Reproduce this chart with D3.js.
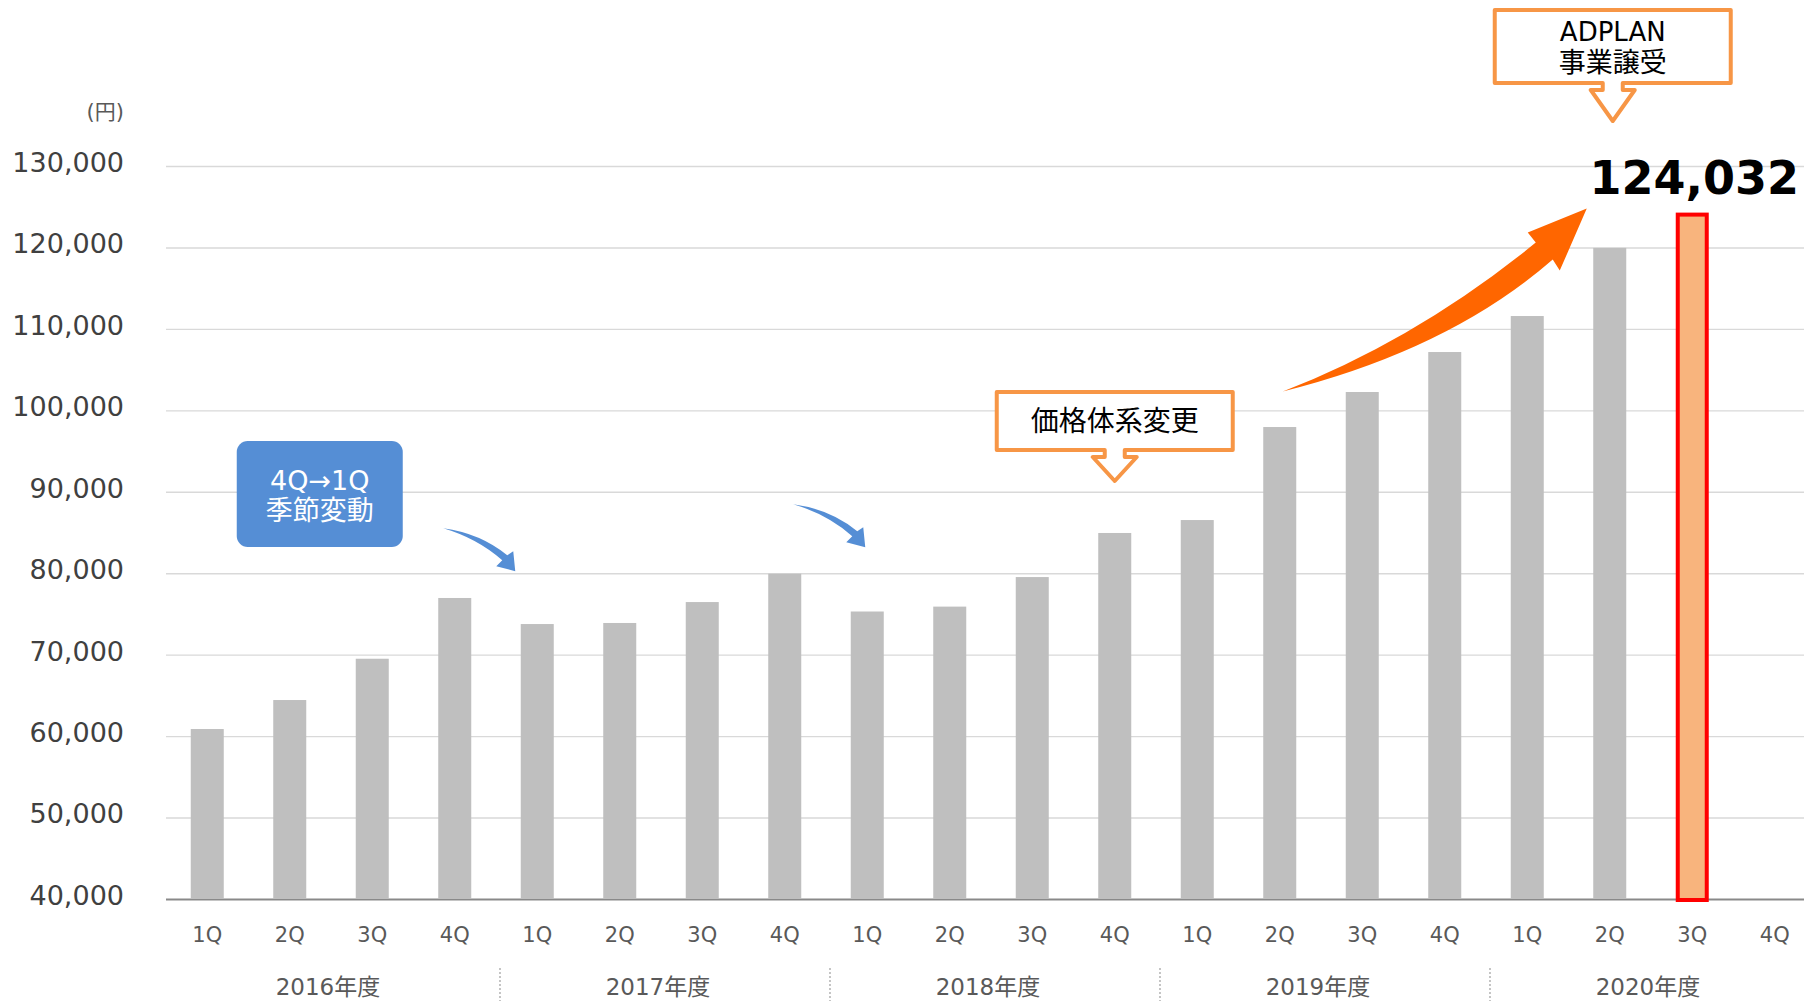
<!DOCTYPE html>
<html>
<head>
<meta charset="utf-8">
<script src="https://cdn.jsdelivr.net/npm/d3@7/dist/d3.min.js"></script>
<style>
body { margin: 0; background: #fff; overflow: hidden; }
text { font-family: 'DejaVu Sans', 'Noto Sans CJK JP', sans-serif; }
</style>
</head>
<body>
<div id="chart"></div>
<script>
// data
const years = ['2016年度', '2017年度', '2018年度', '2019年度', '2020年度'];
const quarters = ['1Q', '2Q', '3Q', '4Q'];
const values = [
    60870, 64430, 69500, 76960,
    73760, 73890, 76460, 79940,
    75300, 75900, 79530, 84940,
    86530, 97950, 102250, 107160,
    111580, 119950, 124032, null
];
const yTicks = [40000, 50000, 60000, 70000, 80000, 90000, 100000, 110000, 120000, 130000];
const unitLabel = '(円)';
const highlight = { year: '2020年度', quarter: '3Q' };

class QuarterBar {
    constructor(option) {
        for (let [key, value] of Object.entries(option)) {
            this[key] = value;
        }
        this.left = 166;
        this.right = 1816;
        this.top = 166;
        this.bottom = 899;
        this.rows = [];
        this.years.forEach((yr, i) => {
            this.quarters.forEach((q, j) => {
                this.rows.push({ key: yr + '-' + q, year: yr, quarter: q, value: this.values[i * 4 + j] });
            });
        });
        this.creatSvg();
        this.creatAxis();
        this.creatBars();
        this.creatNotes();
    }
    creatSvg() {
        this.svg = d3.select(this.ele)
            .append('svg')
            .attr('width', this.width)
            .attr('height', this.height);
    }
    xc(key) {
        return this.x(key) + this.x.bandwidth() / 2;
    }
    creatAxis() {
        let _this = this;
        this.y = d3.scaleLinear()
            .domain([40000, 130000])
            .range([this.bottom, this.top]);
        this.x = d3.scaleBand()
            .domain(this.rows.map(d => d.key))
            .range([this.left, this.right])
            .paddingInner(0.6)
            .paddingOuter(0.3);

        // y轴 + 网格
        let yAxis = d3.axisLeft(this.y)
            .tickValues(this.yTicks)
            .tickSize(-(this.width - this.left))
            .tickPadding(42)
            .tickFormat(d3.format(','));
        let gy = this.svg.append('g')
            .attr('transform', `translate(${this.left},0)`)
            .call(yAxis);
        gy.select('.domain').remove();
        gy.selectAll('.tick line')
            .attr('stroke', d => d === 40000 ? '#898989' : '#D9D9D9')
            .attr('stroke-width', d => d === 40000 ? 2 : 1.4);
        gy.selectAll('.tick text')
            .attr('font-size', 27)
            .attr('fill', '#404040')
            .attr('dy', '0.2em');

        this.svg.append('text')
            .attr('x', 124).attr('y', 119)
            .attr('text-anchor', 'end')
            .attr('font-size', 21)
            .attr('fill', '#595959')
            .text(this.unitLabel);

        // x轴
        let xAxis = d3.axisBottom(this.x)
            .tickSize(0)
            .tickPadding(28)
            .tickFormat(k => k.split('-')[1]);
        let gx = this.svg.append('g')
            .attr('transform', `translate(0,${this.bottom})`)
            .call(xAxis);
        gx.select('.domain').remove();
        gx.selectAll('.tick text')
            .attr('font-size', 21)
            .attr('fill', '#595959');

        // 年度
        let step = this.x.step();
        this.svg.selectAll('.year')
            .data(this.years)
            .enter().append('text')
            .attr('class', 'year')
            .attr('x', (d, i) => (this.x(d + '-1Q') + this.x(d + '-4Q') + this.x.bandwidth()) / 2 - 3)
            .attr('y', 995)
            .attr('text-anchor', 'middle')
            .attr('font-size', 23)
            .attr('fill', '#595959')
            .text(d => d);
        this.svg.selectAll('.sep')
            .data(this.years.slice(1))
            .enter().append('line')
            .attr('class', 'sep')
            .attr('x1', d => this.x(d + '-1Q') - step * 0.3 + 4)
            .attr('x2', d => this.x(d + '-1Q') - step * 0.3 + 4)
            .attr('y1', 968).attr('y2', this.height)
            .attr('stroke', '#A6A6A6')
            .attr('stroke-width', 1.3)
            .attr('stroke-dasharray', '2,2');
    }
    creatBars() {
        let _this = this;
        let hiKey = this.highlight.year + '-' + this.highlight.quarter;
        let data = this.rows.filter(d => d.value != null);
        this.svg.append('g').selectAll('rect')
            .data(data.filter(d => d.key !== hiKey))
            .enter().append('rect')
            .attr('x', d => _this.x(d.key))
            .attr('y', d => _this.y(d.value))
            .attr('width', this.x.bandwidth())
            .attr('height', d => _this.bottom - _this.y(d.value))
            .attr('fill', '#BFBFBF');

        let hi = data.find(d => d.key === hiKey);
        this.svg.append('rect')
            .attr('x', this.x(hiKey) + 2)
            .attr('y', this.y(hi.value))
            .attr('width', this.x.bandwidth() - 4)
            .attr('height', this.bottom + 1 - this.y(hi.value))
            .attr('fill', '#F8B47D')
            .attr('stroke', '#FF0000')
            .attr('stroke-width', 4);
        this.svg.append('text')
            .attr('x', this.xc(hiKey) + 2)
            .attr('y', this.y(hi.value) - 21)
            .attr('text-anchor', 'middle')
            .attr('font-size', 46)
            .attr('font-weight', 'bold')
            .attr('fill', '#000')
            .text(d3.format(',')(hi.value));
    }
    callout(cx, top, bottom, halfW, tip) {
        let p = d3.path();
        p.moveTo(cx - halfW, top);
        p.lineTo(cx + halfW, top);
        p.lineTo(cx + halfW, bottom);
        p.lineTo(cx + 10, bottom);
        p.lineTo(cx + 10, bottom + 7);
        p.lineTo(cx + 22, bottom + 7);
        p.lineTo(cx, tip);
        p.lineTo(cx - 22, bottom + 7);
        p.lineTo(cx - 10, bottom + 7);
        p.lineTo(cx - 10, bottom);
        p.lineTo(cx - halfW, bottom);
        p.closePath();
        this.svg.append('path')
            .attr('d', p.toString())
            .attr('fill', '#fff')
            .attr('stroke', '#F79646')
            .attr('stroke-width', 4)
            .attr('stroke-linejoin', 'round');
    }
    blueArrow(tx, ty) {
        let p = d3.path();
        p.moveTo(tx - 72, ty - 43);
        p.quadraticCurveTo(tx - 35, ty - 38, tx - 8, ty - 16);
        p.lineTo(tx - 2, ty - 20);
        p.lineTo(tx, ty);
        p.lineTo(tx - 19, ty - 5);
        p.lineTo(tx - 13, ty - 11);
        p.quadraticCurveTo(tx - 38, ty - 33, tx - 72, ty - 43);
        p.closePath();
        this.svg.append('path').attr('d', p.toString()).attr('fill', '#558ED5');
    }
    creatNotes() {
        // 季節変動
        let bx = this.xc('2016年度-2Q') + 30;
        this.svg.append('rect')
            .attr('x', bx - 83).attr('y', 441)
            .attr('width', 166).attr('height', 106)
            .attr('rx', 11)
            .attr('fill', '#558ED5');
        this.svg.append('text')
            .attr('x', bx).attr('y', 490)
            .attr('text-anchor', 'middle')
            .attr('font-size', 27).attr('fill', '#fff')
            .text('4Q→1Q');
        this.svg.append('text')
            .attr('x', bx).attr('y', 520)
            .attr('text-anchor', 'middle')
            .attr('font-size', 27).attr('fill', '#fff')
            .text('季節変動');
        this.blueArrow(this.xc('2017年度-1Q') - 22, this.y(80000) - 2);
        this.blueArrow(this.xc('2018年度-1Q') - 2, this.y(83200));

        // 価格体系変更
        let c1 = this.xc('2018年度-4Q');
        this.callout(c1, 392, 450, 118, 481);
        this.svg.append('text')
            .attr('x', c1).attr('y', 431)
            .attr('text-anchor', 'middle')
            .attr('font-size', 28).attr('fill', '#000')
            .text('価格体系変更');

        // ADPLAN
        let c2 = this.xc('2020年度-2Q') + 3;
        this.callout(c2, 10, 83, 118, 121);
        this.svg.append('text')
            .attr('x', c2).attr('y', 41)
            .attr('text-anchor', 'middle')
            .attr('font-size', 26).attr('fill', '#000')
            .text('ADPLAN');
        this.svg.append('text')
            .attr('x', c2).attr('y', 72)
            .attr('text-anchor', 'middle')
            .attr('font-size', 27).attr('fill', '#000')
            .text('事業譲受');

        // 上昇矢印
        let tx = this.xc('2020年度-2Q') - 23, ty = this.y(124032) - 6;
        let p = d3.path();
        p.moveTo(tx - 304, ty + 183);
        p.quadraticCurveTo(tx - 170, ty + 131, tx - 51, ty + 34);
        p.lineTo(tx - 59, ty + 24);
        p.lineTo(tx, ty);
        p.lineTo(tx - 27, ty + 62);
        p.lineTo(tx - 34, ty + 51);
        p.quadraticCurveTo(tx - 137, ty + 141, tx - 304, ty + 183);
        p.closePath();
        this.svg.append('path').attr('d', p.toString()).attr('fill', '#FF6600');
    }
}

let chart = new QuarterBar({
    ele: document.getElementById('chart'),
    width: 1804,
    height: 1001,
    years: years,
    quarters: quarters,
    values: values,
    yTicks: yTicks,
    unitLabel: unitLabel,
    highlight: highlight
});
</script>
</body>
</html>
